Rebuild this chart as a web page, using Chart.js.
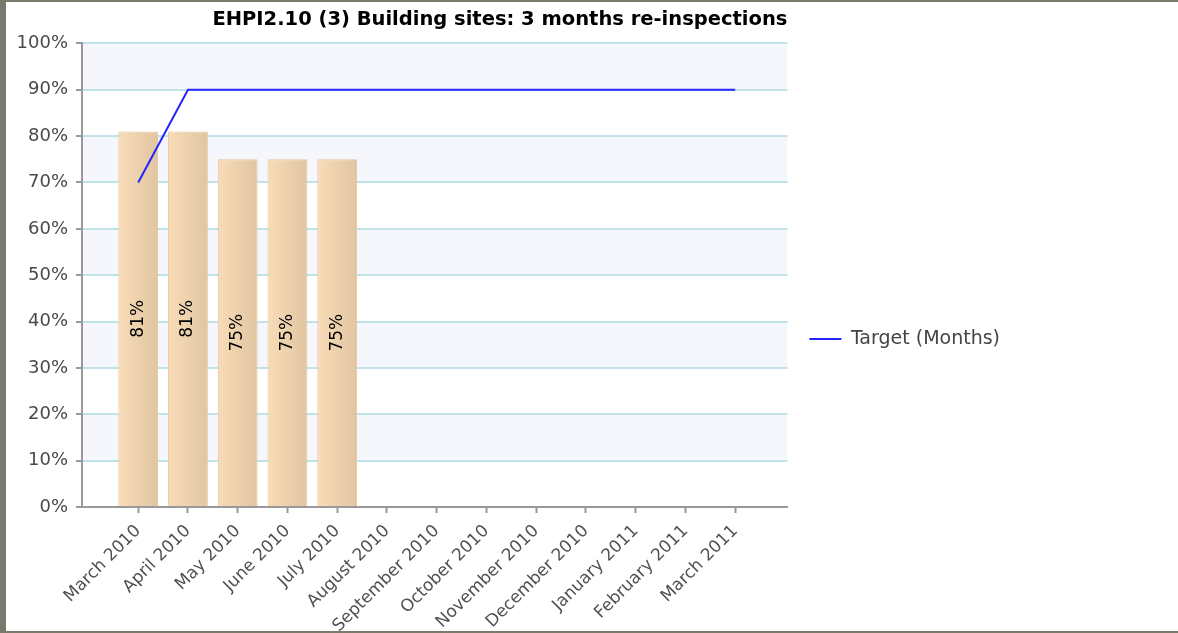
<!DOCTYPE html>
<html>
<head>
<meta charset="utf-8">
<script src="https://cdn.jsdelivr.net/npm/chart.js@4"></script>
<style>
  html, body { margin: 0; padding: 0; background: #fff; }
  #frame {
    position: relative; width: 1178px; height: 633px; box-sizing: border-box;
    border-left: 6px solid #7a7a6c; border-top: 2px solid #7a7a6c; border-bottom: 2px solid #7a7a6c;
  }
  #box { position: absolute; left: 0; top: 0; width: 1172px; height: 629px; }
</style>
</head>
<body>
<div id="frame"><div id="box"><canvas id="chart"></canvas></div></div>
<script>
const months = ['March 2010', 'April 2010', 'May 2010', 'June 2010', 'July 2010', 'August 2010',
  'September 2010', 'October 2010', 'November 2010', 'December 2010', 'January 2011',
  'February 2011', 'March 2011'];
const reinspections = [81, 81, 75, 75, 75];
const target = [70, 90, 90, 90, 90, 90, 90, 90, 90, 90, 90, 90, 90];
const yTicks = [0, 10, 20, 30, 40, 50, 60, 70, 80, 90, 100];

Chart.defaults.font.family = "'DejaVu Sans', sans-serif";

// light stripes behind every other 10% band
const bands = {
  id: 'bands',
  beforeDraw(chart) {
    const { ctx, chartArea, scales } = chart;
    ctx.save();
    ctx.fillStyle = '#f6f7fd';
    for (let i = 1; i < yTicks.length - 1; i += 2) {
      const top = scales.y.getPixelForValue(yTicks[i + 1]);
      const bottom = scales.y.getPixelForValue(yTicks[i]);
      ctx.fillRect(chartArea.left, top, chartArea.right - chartArea.left, bottom - top);
    }
    ctx.restore();
  }
};

// vertical value labels in the middle of each bar
const barLabels = {
  id: 'barLabels',
  afterDatasetsDraw(chart) {
    const ctx = chart.ctx;
    const meta = chart.getDatasetMeta(1);
    ctx.save();
    ctx.font = "17px 'DejaVu Sans'";
    ctx.fillStyle = '#000';
    ctx.textAlign = 'center';
    ctx.textBaseline = 'middle';
    meta.data.forEach((bar, i) => {
      ctx.save();
      ctx.translate(bar.x, (bar.y + bar.base) / 2);
      ctx.rotate(-Math.PI / 2);
      ctx.fillText(reinspections[i] + '%', 0, 0);
      ctx.restore();
    });
    ctx.restore();
  }
};

function barFill(c) {
  const chart = c.chart;
  if (!chart.chartArea || c.type !== 'data') return '#f2d6b3';
  const x = chart.scales.x.getPixelForValue(c.dataIndex);
  const half = (chart.scales.x.getPixelForValue(1) - chart.scales.x.getPixelForValue(0)) * 0.4;
  const g = chart.ctx.createLinearGradient(x - half, 0, x + half, 0);
  g.addColorStop(0, '#f9dcb7');
  g.addColorStop(1, '#e1c5a2');
  return g;
}

new Chart(document.getElementById('chart'), {
  type: 'bar',
  data: {
    datasets: [{
      type: 'line',
      label: 'Target (Months)',
      data: target.map((v, i) => ({ x: i, y: v })),
      borderColor: '#2424ff',
      backgroundColor: '#2424ff',
      borderWidth: 2,
      pointRadius: 0,
      tension: 0,
      fill: false
    }, {
      type: 'bar',
      label: 'Re-inspections',
      data: reinspections.map((v, i) => ({ x: i, y: v })),
      backgroundColor: barFill,
      borderColor: '#e6c69a',
      borderWidth: 1,
      barPercentage: 0.8,
      categoryPercentage: 1
    }]
  },
  options: {
    responsive: true,
    maintainAspectRatio: false,
    animation: false,
    layout: { padding: { right: 168 } },
    scales: {
      x: {
        type: 'linear',
        min: -1.13,
        max: 13.05,
        offset: false,
        afterBuildTicks: s => { s.ticks = months.map((m, i) => ({ value: i })); },
        afterFit: s => { s.height = 124; },
        ticks: {
          callback: v => months[v],
          autoSkip: false,
          minRotation: 45,
          maxRotation: 45,
          color: '#505050',
          font: { size: 17 },
          padding: 8
        },
        grid: { offset: false, drawOnChartArea: false, tickColor: '#999', tickLength: 6, tickWidth: 2 },
        border: { color: '#999', width: 2 }
      },
      y: {
        min: 0,
        max: 100,
        afterBuildTicks: s => { s.ticks = yTicks.map(v => ({ value: v })); },
        afterFit: s => { s.width = 76; },
        ticks: { callback: v => v + '%', color: '#4a4a4a', font: { size: 18 }, padding: 8 },
        grid: { color: '#c0e3e9', lineWidth: 2, tickColor: '#999', tickLength: 6, tickWidth: 2 },
        border: { color: '#999', width: 2 }
      }
    },
    plugins: {
      title: {
        display: true,
        text: 'EHPI2.10 (3) Building sites: 3 months re-inspections',
        fullSize: false,
        align: 'end',
        color: '#000',
        font: { size: 19.5, weight: 'bold' },
        padding: { top: 6, bottom: 12 }
      },
      legend: {
        position: 'right',
        align: 'center',
        title: { display: true, text: '', padding: 13, font: { size: 16 } },
        labels: {
          usePointStyle: true,
          pointStyle: 'line',
          pointStyleWidth: 32,
          padding: 22,
          color: '#444',
          font: { size: 19 },
          filter: item => item.datasetIndex === 0
        }
      },
      tooltip: { enabled: false }
    }
  },
  plugins: [bands, barLabels]
});
</script>
</body>
</html>
